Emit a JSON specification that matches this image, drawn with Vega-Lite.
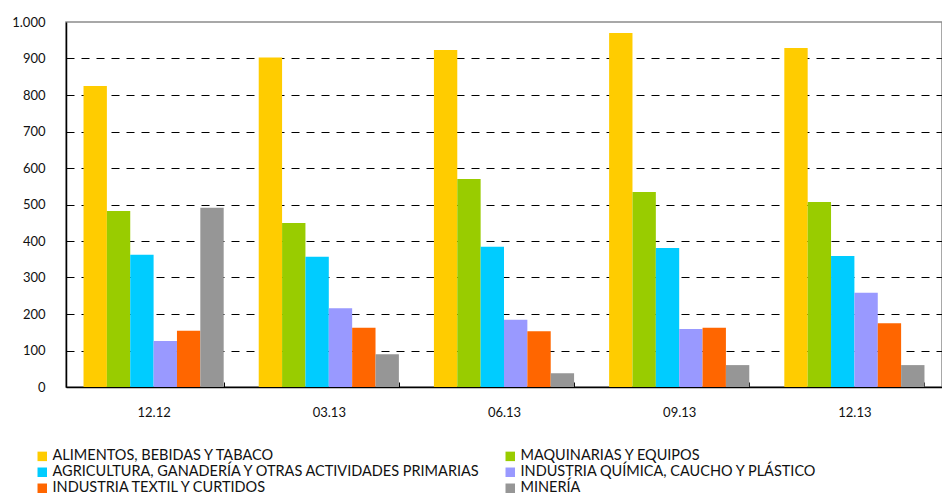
{
  "$schema": "https://vega.github.io/schema/vega-lite/v6.json",
  "width": 876,
  "height": 365,
  "autosize": {"type": "none"},
  "padding": {"left": 66, "top": 22, "right": 0, "bottom": 108},
  "background": "white",
  "config": {
    "font": "Lato",
    "view": {"stroke": "#8c8c8c", "strokeWidth": 1.5},
    "axis": {"labelFont": "Lato", "labelColor": "#111", "labelFontSize": 13}
  },
  "data": {
    "values": [
      {"periodo": "12.12", "sector": "ALIMENTOS, BEBIDAS Y TABACO", "valor": 825},
      {"periodo": "12.12", "sector": "MAQUINARIAS Y EQUIPOS", "valor": 482},
      {"periodo": "12.12", "sector": "AGRICULTURA, GANADERÍA Y OTRAS ACTIVIDADES PRIMARIAS", "valor": 362},
      {"periodo": "12.12", "sector": "INDUSTRIA QUÍMICA, CAUCHO Y PLÁSTICO", "valor": 126},
      {"periodo": "12.12", "sector": "INDUSTRIA TEXTIL Y CURTIDOS", "valor": 154},
      {"periodo": "12.12", "sector": "MINERÍA", "valor": 491},
      {"periodo": "03.13", "sector": "ALIMENTOS, BEBIDAS Y TABACO", "valor": 903},
      {"periodo": "03.13", "sector": "MAQUINARIAS Y EQUIPOS", "valor": 449},
      {"periodo": "03.13", "sector": "AGRICULTURA, GANADERÍA Y OTRAS ACTIVIDADES PRIMARIAS", "valor": 357},
      {"periodo": "03.13", "sector": "INDUSTRIA QUÍMICA, CAUCHO Y PLÁSTICO", "valor": 216},
      {"periodo": "03.13", "sector": "INDUSTRIA TEXTIL Y CURTIDOS", "valor": 162},
      {"periodo": "03.13", "sector": "MINERÍA", "valor": 90},
      {"periodo": "06.13", "sector": "ALIMENTOS, BEBIDAS Y TABACO", "valor": 923},
      {"periodo": "06.13", "sector": "MAQUINARIAS Y EQUIPOS", "valor": 570},
      {"periodo": "06.13", "sector": "AGRICULTURA, GANADERÍA Y OTRAS ACTIVIDADES PRIMARIAS", "valor": 384},
      {"periodo": "06.13", "sector": "INDUSTRIA QUÍMICA, CAUCHO Y PLÁSTICO", "valor": 184},
      {"periodo": "06.13", "sector": "INDUSTRIA TEXTIL Y CURTIDOS", "valor": 153},
      {"periodo": "06.13", "sector": "MINERÍA", "valor": 38},
      {"periodo": "09.13", "sector": "ALIMENTOS, BEBIDAS Y TABACO", "valor": 970},
      {"periodo": "09.13", "sector": "MAQUINARIAS Y EQUIPOS", "valor": 534},
      {"periodo": "09.13", "sector": "AGRICULTURA, GANADERÍA Y OTRAS ACTIVIDADES PRIMARIAS", "valor": 381},
      {"periodo": "09.13", "sector": "INDUSTRIA QUÍMICA, CAUCHO Y PLÁSTICO", "valor": 159},
      {"periodo": "09.13", "sector": "INDUSTRIA TEXTIL Y CURTIDOS", "valor": 162},
      {"periodo": "09.13", "sector": "MINERÍA", "valor": 60},
      {"periodo": "12.13", "sector": "ALIMENTOS, BEBIDAS Y TABACO", "valor": 929},
      {"periodo": "12.13", "sector": "MAQUINARIAS Y EQUIPOS", "valor": 507},
      {"periodo": "12.13", "sector": "AGRICULTURA, GANADERÍA Y OTRAS ACTIVIDADES PRIMARIAS", "valor": 359},
      {"periodo": "12.13", "sector": "INDUSTRIA QUÍMICA, CAUCHO Y PLÁSTICO", "valor": 258},
      {"periodo": "12.13", "sector": "INDUSTRIA TEXTIL Y CURTIDOS", "valor": 175},
      {"periodo": "12.13", "sector": "MINERÍA", "valor": 60}
    ]
  },
  "mark": {"type": "bar"},
  "encoding": {
    "x": {
      "field": "periodo",
      "type": "nominal",
      "sort": null,
      "scale": {"paddingInner": 0.2, "paddingOuter": 0.1},
      "axis": {
        "title": null,
        "labelAngle": 0,
        "domainColor": "#000",
        "domainWidth": 1.5,
        "tickBand": "extent",
        "tickColor": "#000",
        "tickSize": -5,
        "labelPadding": 24
      }
    },
    "xOffset": {
      "field": "sector",
      "type": "nominal",
      "sort": null,
      "scale": {"paddingInner": 0, "paddingOuter": 0}
    },
    "y": {
      "field": "valor",
      "type": "quantitative",
      "scale": {"domain": [0, 1000], "nice": false},
      "axis": {
        "title": null,
        "values": [0, 100, 200, 300, 400, 500, 600, 700, 800, 900, 1000],
        "labelOverlap": false,
        "labelExpr": "datum.value == 1000 ? '1.000' : datum.label",
        "ticks": false,
        "labelPadding": 21,
        "domainColor": "#000",
        "domainWidth": 1.5,
        "grid": true,
        "gridColor": {"condition": {"test": "datum.value >= 1000", "value": "transparent"}, "value": "#000"},
        "gridDash": [8, 7],
        "gridWidth": 1
      }
    },
    "color": {
      "field": "sector",
      "type": "nominal",
      "scale": {
        "domain": [
          "ALIMENTOS, BEBIDAS Y TABACO",
          "MAQUINARIAS Y EQUIPOS",
          "AGRICULTURA, GANADERÍA Y OTRAS ACTIVIDADES PRIMARIAS",
          "INDUSTRIA QUÍMICA, CAUCHO Y PLÁSTICO",
          "INDUSTRIA TEXTIL Y CURTIDOS",
          "MINERÍA"
        ],
        "range": ["#FFCC00", "#99CC00", "#00CCFF", "#9999FF", "#FF6600", "#969696"]
      },
      "legend": {
        "title": null,
        "orient": "none",
        "direction": "horizontal",
        "legendX": -31,
        "legendY": 427,
        "columns": 2,
        "columnPadding": 22,
        "rowPadding": 1,
        "symbolType": "square",
        "symbolSize": 90,
        "symbolStrokeWidth": 0,
        "labelFont": "Lato",
        "labelFontSize": 14.5,
        "labelColor": "#111",
        "labelLimit": 600,
        "labelOffset": 3
      }
    }
  }
}
